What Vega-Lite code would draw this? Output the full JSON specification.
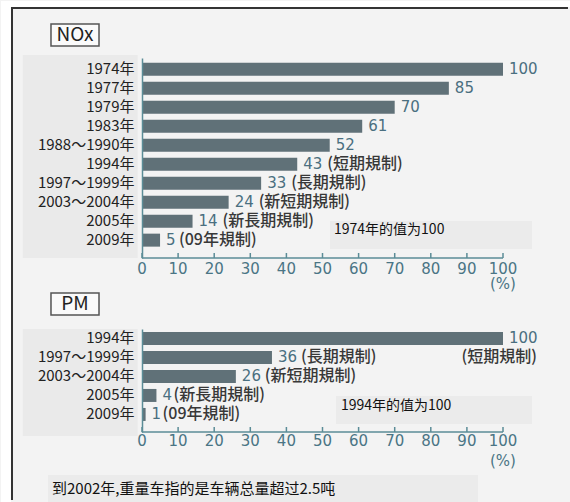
{
  "$schema": "https://vega.github.io/schema/vega-lite/v6.json",
  "background": "#f3f3f3",
  "padding": 0,
  "spacing": 71,
  "bounds": "flush",
  "datasets": {
    "ticks": [{"t": 0}, {"t": 10}, {"t": 20}, {"t": 30}, {"t": 40}, {"t": 50}, {"t": 60}, {"t": 70}, {"t": 80}, {"t": 90}, {"t": 100}]
  },
  "config": {
    "view": {"stroke": null},
    "axisY": {"grid": false, "domainColor": "#5b8c97", "domainWidth": 1.5, "ticks": false, "labelFont": "Noto Sans CJK JP", "labelFontSize": 15, "labelColor": "#222222", "labelPadding": 8}
  },
  "vconcat": [
    {
      "width": 361,
      "height": 200,
      "resolve": {"scale": {"x": "independent", "y": "independent"}},
      "layer": [
        {
          "data": {"values": [{}]},
          "layer": [
            {"mark": {"type": "rect", "color": "white"}, "encoding": {"x": {"datum": -39.0582, "scale": {"domain": [0, 100], "nice": false, "zero": false}, "axis": null}, "x2": {"datum": -36.29}, "y": {"datum": -2.85, "scale": {"domain": [0, 10], "reverse": true, "nice": false, "zero": false}, "axis": null}, "y2": {"datum": 22.25}}},
            {"mark": {"type": "rect", "color": "white"}, "encoding": {"x": {"datum": -39.0582, "scale": {"domain": [0, 100], "nice": false, "zero": false}, "axis": null}, "x2": {"datum": 118.837}, "y": {"datum": -2.85, "scale": {"domain": [0, 10], "reverse": true, "nice": false, "zero": false}, "axis": null}, "y2": {"datum": -2.55}}},
            {"mark": {"type": "rule", "color": "#333333", "strokeWidth": 2}, "encoding": {"x": {"datum": -36.01, "scale": {"domain": [0, 100], "nice": false, "zero": false}, "axis": null}, "y": {"datum": -2.55, "scale": {"domain": [0, 10], "reverse": true, "nice": false, "zero": false}, "axis": null}, "y2": {"datum": 22.1}}},
            {"mark": {"type": "rule", "color": "#333333", "strokeWidth": 2}, "encoding": {"x": {"datum": -36.29, "scale": {"domain": [0, 100], "nice": false, "zero": false}, "axis": null}, "x2": {"datum": 118.0}, "y": {"datum": -2.5, "scale": {"domain": [0, 10], "reverse": true, "nice": false, "zero": false}, "axis": null}}},
            {"mark": {"type": "rect", "color": "#eaeaea"}, "encoding": {"x": {"datum": -33.05, "scale": {"domain": [0, 100], "nice": false, "zero": false}, "axis": null}, "x2": {"datum": -1.19}, "y": {"datum": -0.15, "scale": {"domain": [0, 10], "reverse": true, "nice": false, "zero": false}, "axis": null}, "y2": {"datum": 10}}},
            {"mark": {"type": "rect", "fill": "#fafafa", "stroke": "#555555", "strokeWidth": 1.5}, "encoding": {"x": {"datum": -25.21, "scale": {"domain": [0, 100], "nice": false, "zero": false}, "axis": null}, "x2": {"datum": -11.91}, "y": {"datum": -1.7, "scale": {"domain": [0, 10], "reverse": true, "nice": false, "zero": false}, "axis": null}, "y2": {"datum": -0.6}}},
            {"mark": {"type": "text", "font": "Noto Sans CJK JP", "fontSize": 19, "align": "center", "baseline": "middle", "color": "#222222"}, "encoding": {"x": {"datum": -18.56, "scale": {"domain": [0, 100], "nice": false, "zero": false}, "axis": null}, "y": {"datum": -1.15, "scale": {"domain": [0, 10], "reverse": true, "nice": false, "zero": false}, "axis": null}, "text": {"value": "NOx"}}},
            {"mark": {"type": "rect", "color": "#ebebeb"}, "encoding": {"x": {"datum": 52.08, "scale": {"domain": [0, 100], "nice": false, "zero": false}, "axis": null}, "x2": {"datum": 108.03}, "y": {"datum": 8.15, "scale": {"domain": [0, 10], "reverse": true, "nice": false, "zero": false}, "axis": null}, "y2": {"datum": 9.55}}},
            {"mark": {"type": "text", "font": "Noto Sans CJK SC", "fontSize": 14, "align": "left", "baseline": "middle", "color": "#111111"}, "encoding": {"x": {"datum": 53.19, "scale": {"domain": [0, 100], "nice": false, "zero": false}, "axis": null}, "y": {"datum": 8.6, "scale": {"domain": [0, 10], "reverse": true, "nice": false, "zero": false}, "axis": null}, "text": {"value": "1974年的值为100"}}},
            {"mark": {"type": "rule", "color": "#5b8c97", "strokeWidth": 1.5}, "encoding": {"x": {"datum": 0, "scale": {"domain": [0, 100], "nice": false, "zero": false}, "axis": null}, "x2": {"datum": 100}, "y": {"datum": 10, "scale": {"domain": [0, 10], "reverse": true, "nice": false, "zero": false}, "axis": null}}},
            {"data": {"name": "ticks"}, "mark": {"type": "rule", "color": "#5b8c97", "strokeWidth": 1.5}, "encoding": {"x": {"field": "t", "type": "quantitative", "scale": {"domain": [0, 100], "nice": false, "zero": false}, "axis": null}, "y": {"datum": 10, "scale": {"domain": [0, 10], "reverse": true, "nice": false, "zero": false}, "axis": null}, "y2": {"datum": 9.75}}},
            {"data": {"name": "ticks"}, "mark": {"type": "text", "font": "DejaVu Sans", "fontSize": 15, "align": "center", "baseline": "middle", "color": "#4a7585"}, "encoding": {"x": {"field": "t", "type": "quantitative", "scale": {"domain": [0, 100], "nice": false, "zero": false}, "axis": null}, "y": {"datum": 10.55, "scale": {"domain": [0, 10], "reverse": true, "nice": false, "zero": false}, "axis": null}, "text": {"field": "t", "type": "quantitative"}}},
            {"mark": {"type": "text", "font": "DejaVu Sans", "fontSize": 15, "align": "center", "baseline": "middle", "color": "#4a7585"}, "encoding": {"x": {"datum": 100, "scale": {"domain": [0, 100], "nice": false, "zero": false}, "axis": null}, "y": {"datum": 11.3, "scale": {"domain": [0, 10], "reverse": true, "nice": false, "zero": false}, "axis": null}, "text": {"value": "(%)"}}}
          ]
        },
        {
          "data": {"values": [
            {"label": "1974年", "value": 100, "note": ""},
            {"label": "1977年", "value": 85, "note": ""},
            {"label": "1979年", "value": 70, "note": ""},
            {"label": "1983年", "value": 61, "note": ""},
            {"label": "1988～1990年", "value": 52, "note": ""},
            {"label": "1994年", "value": 43, "note": "(短期規制)"},
            {"label": "1997～1999年", "value": 33, "note": "(長期規制)"},
            {"label": "2003～2004年", "value": 24, "note": "(新短期規制)"},
            {"label": "2005年", "value": 14, "note": "(新長期規制)"},
            {"label": "2009年", "value": 5, "note": "(09年規制)"}
          ]},
          "encoding": {
            "y": {"field": "label", "type": "nominal", "sort": null, "scale": {"domain": ["1974年", "1977年", "1979年", "1983年", "1988～1990年", "1994年", "1997～1999年", "2003～2004年", "2005年", "2009年"], "paddingInner": 0.316, "paddingOuter": 0.421, "align": 0.29}, "axis": {"title": null, "zindex": 1}},
            "x": {"field": "value", "type": "quantitative", "scale": {"domain": [0, 100], "nice": false, "zero": false}, "axis": null}
          },
          "layer": [
            {"mark": {"type": "bar", "color": "#607178"}},
            {"mark": {"type": "text", "align": "left", "baseline": "middle", "dx": 6, "font": "DejaVu Sans", "fontSize": 15, "color": "#4a6f80"}, "encoding": {"text": {"field": "value", "type": "quantitative"}}},
            {"transform": [{"filter": {"field": "value", "gte": 10}}], "mark": {"type": "text", "align": "left", "baseline": "middle", "dx": 30, "font": "Noto Sans CJK JP", "fontSize": 16, "fontWeight": 500, "color": "#383838"}, "encoding": {"text": {"field": "note", "type": "nominal"}}},
            {"transform": [{"filter": {"field": "value", "lt": 10}}], "mark": {"type": "text", "align": "left", "baseline": "middle", "dx": 19, "font": "Noto Sans CJK JP", "fontSize": 16, "fontWeight": 500, "color": "#383838"}, "encoding": {"text": {"field": "note", "type": "nominal"}}}
          ]
        }
      ]
    },
    {
      "width": 361,
      "height": 103,
      "resolve": {"scale": {"x": "independent", "y": "independent"}},
      "layer": [
        {
          "data": {"values": [{}]},
          "layer": [
            {"mark": {"type": "rect", "color": "#eaeaea"}, "encoding": {"x": {"datum": -33.05, "scale": {"domain": [0, 100], "nice": false, "zero": false}, "axis": null}, "x2": {"datum": -1.19}, "y": {"datum": 0, "scale": {"domain": [0, 5.15], "reverse": true, "nice": false, "zero": false}, "axis": null}, "y2": {"datum": 5.35}}},
            {"mark": {"type": "rect", "fill": "#fafafa", "stroke": "#555555", "strokeWidth": 1.5}, "encoding": {"x": {"datum": -25.21, "scale": {"domain": [0, 100], "nice": false, "zero": false}, "axis": null}, "x2": {"datum": -11.91}, "y": {"datum": -1.8, "scale": {"domain": [0, 5.15], "reverse": true, "nice": false, "zero": false}, "axis": null}, "y2": {"datum": -0.7}}},
            {"mark": {"type": "text", "font": "Noto Sans CJK JP", "fontSize": 19, "align": "center", "baseline": "middle", "color": "#222222"}, "encoding": {"x": {"datum": -18.56, "scale": {"domain": [0, 100], "nice": false, "zero": false}, "axis": null}, "y": {"datum": -1.25, "scale": {"domain": [0, 5.15], "reverse": true, "nice": false, "zero": false}, "axis": null}, "text": {"value": "PM"}}},
            {"mark": {"type": "rect", "color": "#ebebeb"}, "encoding": {"x": {"datum": 53.74, "scale": {"domain": [0, 100], "nice": false, "zero": false}, "axis": null}, "x2": {"datum": 108.03}, "y": {"datum": 3.35, "scale": {"domain": [0, 5.15], "reverse": true, "nice": false, "zero": false}, "axis": null}, "y2": {"datum": 4.75}}},
            {"mark": {"type": "text", "font": "Noto Sans CJK SC", "fontSize": 14, "align": "left", "baseline": "middle", "color": "#111111"}, "encoding": {"x": {"datum": 55.12, "scale": {"domain": [0, 100], "nice": false, "zero": false}, "axis": null}, "y": {"datum": 3.85, "scale": {"domain": [0, 5.15], "reverse": true, "nice": false, "zero": false}, "axis": null}, "text": {"value": "1994年的值为100"}}},
            {"mark": {"type": "rect", "color": "#ebebeb"}, "encoding": {"x": {"datum": -26.04, "scale": {"domain": [0, 100], "nice": false, "zero": false}, "axis": null}, "x2": {"datum": 93.07}, "y": {"datum": 7.3, "scale": {"domain": [0, 5.15], "reverse": true, "nice": false, "zero": false}, "axis": null}, "y2": {"datum": 8.7}}},
            {"mark": {"type": "text", "font": "Noto Sans CJK SC", "fontSize": 15, "align": "left", "baseline": "middle", "color": "#111111"}, "encoding": {"x": {"datum": -24.93, "scale": {"domain": [0, 100], "nice": false, "zero": false}, "axis": null}, "y": {"datum": 7.975, "scale": {"domain": [0, 5.15], "reverse": true, "nice": false, "zero": false}, "axis": null}, "text": {"value": "到2002年,重量车指的是车辆总量超过2.5吨"}}},
            {"mark": {"type": "rule", "color": "#5b8c97", "strokeWidth": 1.5}, "encoding": {"x": {"datum": 0, "scale": {"domain": [0, 100], "nice": false, "zero": false}, "axis": null}, "x2": {"datum": 100}, "y": {"datum": 5.15, "scale": {"domain": [0, 5.15], "reverse": true, "nice": false, "zero": false}, "axis": null}}},
            {"data": {"name": "ticks"}, "mark": {"type": "rule", "color": "#5b8c97", "strokeWidth": 1.5}, "encoding": {"x": {"field": "t", "type": "quantitative", "scale": {"domain": [0, 100], "nice": false, "zero": false}, "axis": null}, "y": {"datum": 5.15, "scale": {"domain": [0, 5.15], "reverse": true, "nice": false, "zero": false}, "axis": null}, "y2": {"datum": 4.9}}},
            {"data": {"name": "ticks"}, "mark": {"type": "text", "font": "DejaVu Sans", "fontSize": 15, "align": "center", "baseline": "middle", "color": "#4a7585"}, "encoding": {"x": {"field": "t", "type": "quantitative", "scale": {"domain": [0, 100], "nice": false, "zero": false}, "axis": null}, "y": {"datum": 5.6, "scale": {"domain": [0, 5.15], "reverse": true, "nice": false, "zero": false}, "axis": null}, "text": {"field": "t", "type": "quantitative"}}},
            {"mark": {"type": "text", "font": "DejaVu Sans", "fontSize": 15, "align": "center", "baseline": "middle", "color": "#4a7585"}, "encoding": {"x": {"datum": 100, "scale": {"domain": [0, 100], "nice": false, "zero": false}, "axis": null}, "y": {"datum": 6.6, "scale": {"domain": [0, 5.15], "reverse": true, "nice": false, "zero": false}, "axis": null}, "text": {"value": "(%)"}}}
          ]
        },
        {
          "data": {"values": [
            {"label": "1994年", "value": 100, "note": "(短期規制)"},
            {"label": "1997～1999年", "value": 36, "note": "(長期規制)"},
            {"label": "2003～2004年", "value": 26, "note": "(新短期規制)"},
            {"label": "2005年", "value": 4, "note": "(新長期規制)"},
            {"label": "2009年", "value": 1, "note": "(09年規制)"}
          ]},
          "encoding": {
            "y": {"field": "label", "type": "nominal", "sort": null, "scale": {"domain": ["1994年", "1997～1999年", "2003～2004年", "2005年", "2009年"], "paddingInner": 0.316, "paddingOuter": 0.368, "align": 0.21}, "axis": {"title": null, "zindex": 1}},
            "x": {"field": "value", "type": "quantitative", "scale": {"domain": [0, 100], "nice": false, "zero": false}, "axis": null}
          },
          "layer": [
            {"mark": {"type": "bar", "color": "#607178"}},
            {"mark": {"type": "text", "align": "left", "baseline": "middle", "dx": 6, "font": "DejaVu Sans", "fontSize": 15, "color": "#4a6f80"}, "encoding": {"text": {"field": "value", "type": "quantitative"}}},
            {"transform": [{"filter": {"field": "value", "range": [10, 99]}}], "mark": {"type": "text", "align": "left", "baseline": "middle", "dx": 29, "font": "Noto Sans CJK JP", "fontSize": 16, "fontWeight": 500, "color": "#383838"}, "encoding": {"text": {"field": "note", "type": "nominal"}}},
            {"transform": [{"filter": {"field": "value", "lt": 10}}], "mark": {"type": "text", "align": "left", "baseline": "middle", "dx": 17, "font": "Noto Sans CJK JP", "fontSize": 16, "fontWeight": 500, "color": "#383838"}, "encoding": {"text": {"field": "note", "type": "nominal"}}},
            {"transform": [{"filter": {"field": "value", "equal": 100}}], "mark": {"type": "text", "align": "right", "baseline": "middle", "dx": 34, "dy": 19, "font": "Noto Sans CJK JP", "fontSize": 16, "fontWeight": 500, "color": "#383838"}, "encoding": {"text": {"field": "note", "type": "nominal"}}}
          ]
        }
      ]
    }
  ]
}
